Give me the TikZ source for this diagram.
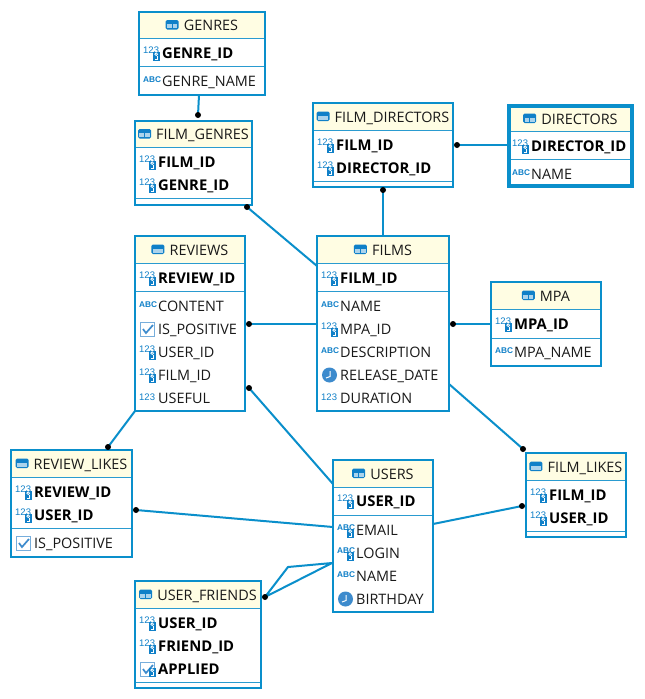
\documentclass[tikz,border=0pt]{standalone}
\usepackage{fontspec}
\setmainfont{Open Sans}
\newfontfamily\iconfont{Liberation Sans}
\definecolor{edge}{HTML}{0A8FCB}
\definecolor{hdr}{HTML}{FFFDE3}
\definecolor{icon}{HTML}{1080C8}
\definecolor{clockc}{HTML}{3D8BCD}
\definecolor{sepc}{HTML}{2A9BD0}
\newcounter{rowno}
\tikzset{
  x=1pt,y=-1pt,
  tablebox/.style={draw=edge,line width=2.4pt,inner sep=0pt,outer sep=0pt,anchor=north west,rectangle},
  thickbox/.style={tablebox,line width=3.8pt},
  titletext/.style={anchor=base,font=\fontsize{14.4}{14}\selectfont,text=black!90,inner sep=0pt},
  rowtext/.style={anchor=base west,font=\fontsize{14.4}{14}\selectfont,text=black!90,inner sep=0pt},
  keytext/.style={rowtext,font=\fontsize{14.8}{14}\selectfont\bfseries,text=black},
  icontext/.style={anchor=west,font=\iconfont\fontsize{9.5}{9}\selectfont,text=icon,inner sep=0pt},
  iconabc/.style={anchor=west,font=\iconfont\fontsize{8.3}{8}\selectfont\bfseries,text=icon,inner sep=0pt},
  link/.style={draw=edge,line width=2pt,line join=round},
  enddot/.style={circle,fill=black,inner sep=0pt,minimum size=6pt},
  sep/.style={draw=sepc,line width=1pt}
}
% #1 name, #2 title, #3 x1, #4 y1, #5 x2, #6 y2, #7 header bottom, #8 separator, #9 box style
\newcommand{\tbl}[9]{%
  \fill[white] (#3,#4) rectangle (#5,#6);
  \fill[hdr] (#3,#4) rectangle (#5,#7);
  \draw[sep] (#3,#7) -- (#5,#7);
  \draw[sep] (#3,#8) -- (#5,#8);
  \node[#9,minimum width={(#5-#3)*1pt},minimum height={(#6-#4)*1pt}] (#1) at (#3,#4) {};
  \node[titletext] (#1t) at ({(#3+#5)/2+9},{(#4+#7)/2+5.5}) {#2};
  \begin{scope}[shift={(#1t.base west)}]
    \fill[icon,rounded corners=1.5pt] (-18,-10.5) rectangle (-5,-1);
    \fill[icon!35] (-16.7,-6.5) rectangle (-11.9,-2.2);
    \fill[icon!35] (-11.1,-6.5) rectangle (-6.3,-2.2);
  \end{scope}
}
\newcommand{\keymark}[2]{%
  \fill[icon] (#1+14,#2-1.5) rectangle (#1+20.5,#2+8);
  \draw[white,line width=.8pt] (#1+17.2,#2+1.2) circle (1.4pt);
  \draw[white,line width=.8pt] (#1+18.4,#2+2.5) -- (#1+18.4,#2+6) -- (#1+16,#2+6);
}
% #1 text x, #2 y, #3 text, #4 text style
\newcommand{\rownode}[4]{\stepcounter{rowno}\node[#4] (row\therowno) at (#1,#2+5.5) {#3};}
\newcommand{\keyrow}[4]{% box left, y, text, style
  \stepcounter{rowno}\node[icontext] (ic\therowno) at (#1+4,#2-2.5) {123};
  \keymark{#1}{#2}
  \rownode{#1+23}{#2}{#3}{#4}}
\newcommand{\numrow}[3]{%
  \stepcounter{rowno}\node[icontext] (ic\therowno) at (#1+4,#2-1) {123};
  \rownode{#1+23}{#2}{#3}{rowtext}}
\newcommand{\abcrow}[3]{%
  \stepcounter{rowno}\node[iconabc] (ic\therowno) at (#1+4,#2-1) {ABC};
  \rownode{#1+23}{#2}{#3}{rowtext}}
\newcommand{\abckeyrow}[3]{%
  \stepcounter{rowno}\node[iconabc] (ic\therowno) at (#1+4,#2-2) {ABC};
  \keymark{#1}{#2}
  \rownode{#1+23}{#2}{#3}{rowtext}}
\newcommand{\checkicon}[2]{%
  \draw[clockc!70,line width=.9pt,fill=white] (#1+5,#2-6.5) rectangle (#1+19,#2+7.5);
  \draw[clockc,line width=1.7pt] (#1+8,#2) -- (#1+11,#2+4) -- (#1+18,#2-4);
}
\newcommand{\checkrow}[3]{\checkicon{#1}{#2}\rownode{#1+23}{#2}{#3}{rowtext}}
\newcommand{\clockrow}[3]{%
  \fill[clockc] (#1+12.5,#2) circle (7.5pt);
  \draw[white,line width=1pt] (#1+13,#2-4) -- (#1+13,#2+1.5) -- (#1+9,#2+3);
  \rownode{#1+23}{#2}{#3}{rowtext}}
\begin{document}
\begin{tikzpicture}
\useasboundingbox (0,0) rectangle (645,699);
\fill[white] (0,0) rectangle (645,699);
% link ends
\foreach \n/\x/\y in {a1/199/95, a2/198/115, b1/247/207, b2/317/266, c1/383/190, c2/383/236,
  d1/457/145, d2/508/145, e1/249/324, e2/317/324, f1/453/324, f2/491/324, g1/249/388, g2/333/484,
  h1/449/384, h2/523/449, i1/135/411, i2/108/447, j1/136/510, j2/333/527, k1/433/524, k2/522/506,
  l1/265/597, l2/332/563, l3/288/567}
  {\coordinate (\n) at (\x,\y);}
\draw[link] (a1) -- (a2);
\draw[link] (b1) -- (b2);
\draw[link] (c1) -- (c2);
\draw[link] (d1) -- (d2);
\draw[link] (e1) -- (e2);
\draw[link] (f1) -- (f2);
\draw[link] (g1) -- (g2);
\draw[link] (h1) -- (h2);
\draw[link] (i1) -- (i2);
\draw[link] (j1) -- (j2);
\draw[link] (k1) -- (k2);
\draw[link] (l1) -- (l3) -- (l2) -- cycle;
% tables
\tbl{genres}{GENRES}{139}{12}{265}{95}{38}{66}{tablebox}
\keyrow{139}{53}{GENRE\_ID}{keytext}
\abcrow{139}{81}{GENRE\_NAME}
\tbl{filmgenres}{FILM\_GENRES}{135}{121}{252}{205}{147}{198}{tablebox}
\keyrow{135}{162}{FILM\_ID}{keytext}
\keyrow{135}{185}{GENRE\_ID}{keytext}
\tbl{filmdirectors}{FILM\_DIRECTORS}{313}{103}{453}{187}{130}{181}{tablebox}
\keyrow{313}{145}{FILM\_ID}{keytext}
\keyrow{313}{168}{DIRECTOR\_ID}{keytext}
\tbl{directors}{DIRECTORS}{509}{106}{632}{186}{131}{159}{thickbox}
\keyrow{508}{146}{DIRECTOR\_ID}{keytext}
\abcrow{508}{174}{NAME}
\tbl{reviews}{REVIEWS}{135}{236}{245}{411}{263}{291}{tablebox}
\keyrow{135}{278}{REVIEW\_ID}{keytext}
\abcrow{135}{306}{CONTENT}
\checkrow{135}{329}{IS\_POSITIVE}
\keyrow{135}{352}{USER\_ID}{rowtext}
\keyrow{135}{375}{FILM\_ID}{rowtext}
\numrow{135}{398}{USEFUL}
\tbl{films}{FILMS}{317}{236}{449}{411}{263}{291}{tablebox}
\keyrow{317}{278}{FILM\_ID}{keytext}
\abcrow{317}{306}{NAME}
\keyrow{317}{329}{MPA\_ID}{rowtext}
\abcrow{317}{352}{DESCRIPTION}
\clockrow{317}{375}{RELEASE\_DATE}
\numrow{317}{398}{DURATION}
\tbl{mpa}{MPA}{491}{282}{601}{366}{309}{338}{tablebox}
\keyrow{491}{324}{MPA\_ID}{keytext}
\abcrow{491}{352}{MPA\_NAME}
\tbl{reviewlikes}{REVIEW\_LIKES}{11}{450}{132}{557}{477}{528}{tablebox}
\keyrow{11}{492}{REVIEW\_ID}{keytext}
\keyrow{11}{515}{USER\_ID}{keytext}
\checkrow{11}{543}{IS\_POSITIVE}
\tbl{users}{USERS}{333}{460}{433}{612}{487}{515}{tablebox}
\keyrow{333}{501}{USER\_ID}{keytext}
\abckeyrow{333}{530}{EMAIL}
\abckeyrow{333}{553}{LOGIN}
\abcrow{333}{576}{NAME}
\clockrow{333}{599}{BIRTHDAY}
\tbl{filmlikes}{FILM\_LIKES}{526}{453}{626}{537}{480}{531}{tablebox}
\keyrow{526}{495}{FILM\_ID}{keytext}
\keyrow{526}{518}{USER\_ID}{keytext}
\tbl{userfriends}{USER\_FRIENDS}{135}{581}{261}{688}{608}{682}{tablebox}
\keyrow{135}{623}{USER\_ID}{keytext}
\keyrow{135}{646}{FRIEND\_ID}{keytext}
\checkicon{135}{669}\keymark{135}{669}
\rownode{158}{669}{APPLIED}{keytext}
% dots
\foreach \n in {a2,b1,c1,d1,e1,f1,g1,h2,i2,j1,k2,l1}
  {\node[enddot] (dot\n) at (\n) {};}
\end{tikzpicture}
\end{document}
